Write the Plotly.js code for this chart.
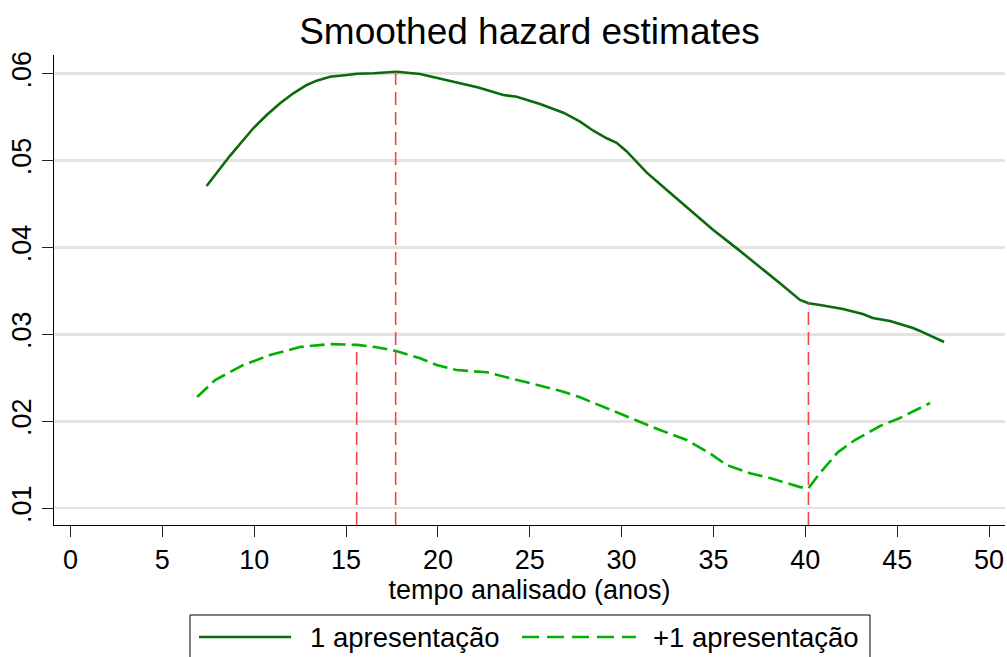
<!DOCTYPE html>
<html>
<head>
<meta charset="utf-8">
<script src="https://cdn.plot.ly/plotly-3.0.1.min.js"></script>
<style>
  html, body { margin: 0; padding: 0; background: #fff; }
  #chart { width: 1007px; height: 657px; }
</style>
</head>
<body>
<div id="chart"></div>
<script>
// Smoothed hazard estimates, by number of presentations
var tempo1 = [7.41, 7.96, 8.68, 9.41, 9.95, 10.68, 11.41, 12.13, 12.86, 13.4, 14.13, 15.04, 15.6, 16.5, 17.03, 17.76, 19.03, 20.55, 22.2, 23.56, 24.29, 25.56, 26.83, 27.74, 28.46, 29.19, 29.73, 30.28, 30.64, 31.0, 31.37, 32.46, 33.54, 34.99, 36.27, 37.53, 38.62, 39.71, 40.17, 40.8, 42.05, 43.13, 43.67, 44.61, 45.86, 46.24, 47.55];
var hazard1 = [0.04708, 0.04862, 0.05055, 0.05237, 0.05372, 0.05525, 0.05659, 0.05774, 0.0587, 0.0592, 0.05965, 0.05985, 0.06000, 0.06005, 0.06010, 0.06023, 0.05997, 0.05925, 0.05840, 0.05755, 0.05735, 0.05651, 0.05551, 0.05448, 0.05344, 0.05257, 0.05205, 0.05105, 0.05025, 0.04945, 0.04861, 0.04662, 0.04462, 0.04201, 0.03990, 0.03779, 0.03588, 0.03396, 0.03358, 0.03338, 0.03292, 0.03235, 0.03189, 0.03154, 0.03074, 0.03040, 0.02913];

var tempo2 = [6.89, 7.87, 9.39, 10.86, 12.49, 14.13, 15.6, 16.58, 17.72, 19.03, 19.93, 21.02, 22.66, 23.74, 25.38, 26.65, 27.74, 29.19, 30.82, 32.09, 33.54, 34.81, 35.72, 36.99, 38.08, 39.71, 40.17, 40.8, 41.78, 42.7, 44.07, 45.15, 46.79];
var hazard2 = [0.0228, 0.02474, 0.02647, 0.02762, 0.02855, 0.02889, 0.02880, 0.02855, 0.02809, 0.02725, 0.02648, 0.0259, 0.02564, 0.02506, 0.02418, 0.02352, 0.02276, 0.0215, 0.02015, 0.019, 0.01785, 0.01632, 0.01497, 0.01402, 0.01347, 0.01243, 0.01229, 0.01405, 0.01646, 0.01785, 0.01946, 0.02038, 0.02211];

// reference lines: time of peak / turning point and the hazard reached there
var refTempo = [15.58, 17.7, 40.17];
var refHazard = [0.0288, 0.06023, 0.03358];

var xTicks = [0, 5, 10, 15, 20, 25, 30, 35, 40, 45, 50];
var yTicks = [0.01, 0.02, 0.03, 0.04, 0.05, 0.06];
var yTickText = ['.01', '.02', '.03', '.04', '.05', '.06'];

var seriesNames = ['1 apresentação', '+1 apresentação'];

var xRange = [-0.898, 50.87];
var yRange = [0.00807, 0.06215];

var W = 1007, H = 657;
var M = {l: 54, r: 2, t: 55, b: 132};
var FONT = 'Liberation Sans, Arial, Helvetica, sans-serif';

var colSolid = '#0b6a0b';
var colDash = '#00b000';
var colRef = '#f44545';

// pixel position -> paper coordinates (for the legend block below the axis)
function px(xp) { return (xp - M.l) / (W - M.l - M.r); }
function py(yp) { return (H - M.b - yp) / (H - M.t - M.b); }

var traces = [
  {
    x: tempo1, y: hazard1, type: 'scatter', mode: 'lines',
    name: seriesNames[0],
    line: {color: colSolid, width: 2.6}
  },
  {
    x: tempo2, y: hazard2, type: 'scatter', mode: 'lines',
    name: seriesNames[1],
    line: {color: colDash, width: 2.6, dash: '15px,6px'}
  }
];

refTempo.forEach(function (t, i) {
  traces.push({
    x: [t, t], y: [yRange[0], refHazard[i]], type: 'scatter', mode: 'lines',
    showlegend: false, hoverinfo: 'skip',
    line: {color: colRef, width: 1.6, dash: '13px,7px'}
  });
});

// legend block
var legTop = 615, legMid = 637;
var shapes = [
  {type: 'rect', xref: 'paper', yref: 'paper',
   x0: px(190), x1: px(870), y0: py(legTop), y1: py(700),
   line: {color: '#000', width: 1}, fillcolor: 'rgba(0,0,0,0)'},
  {type: 'line', xref: 'paper', yref: 'paper',
   x0: px(199), x1: px(291), y0: py(legMid), y1: py(legMid),
   line: {color: colSolid, width: 2.6}},
  {type: 'line', xref: 'paper', yref: 'paper',
   x0: px(522), x1: px(636), y0: py(legMid), y1: py(legMid),
   line: {color: colDash, width: 2.6, dash: '17px,8px'}}
];

var annotations = [
  {xref: 'paper', yref: 'paper', x: px(308), y: py(legMid),
   xanchor: 'left', yanchor: 'middle', showarrow: false,
   text: seriesNames[0], font: {family: FONT, size: 27.5, color: '#000'}},
  {xref: 'paper', yref: 'paper', x: px(651), y: py(legMid),
   xanchor: 'left', yanchor: 'middle', showarrow: false,
   text: seriesNames[1], font: {family: FONT, size: 27.5, color: '#000'}}
];

var layout = {
  width: W, height: H,
  margin: M,
  paper_bgcolor: '#fff', plot_bgcolor: '#fff',
  font: {family: FONT, size: 27, color: '#000'},
  showlegend: false,
  title: {
    text: 'Smoothed hazard estimates',
    font: {family: FONT, size: 37, color: '#000'},
    xref: 'paper', x: 0.5, xanchor: 'center',
    yref: 'container', y: 1 - 31 / H, yanchor: 'middle'
  },
  xaxis: {
    range: xRange, tickmode: 'array', tickvals: xTicks,
    ticks: 'outside', ticklen: 11, tickwidth: 1, tickcolor: '#222',
    showline: true, linecolor: '#000', linewidth: 1,
    showgrid: false, zeroline: false,
    tickfont: {family: FONT, size: 27, color: '#000'},
    title: {text: 'tempo analisado (anos)', standoff: 4,
            font: {family: FONT, size: 27, color: '#000'}}
  },
  yaxis: {
    range: yRange, tickmode: 'array', tickvals: yTicks, ticktext: yTickText,
    tickangle: -90,
    ticks: 'outside', ticklen: 11, tickwidth: 1, tickcolor: '#222',
    showline: true, linecolor: '#000', linewidth: 1,
    showgrid: true, gridcolor: '#e3e3e3', gridwidth: 2.5,
    zeroline: false,
    tickfont: {family: FONT, size: 27, color: '#000'}
  },
  shapes: shapes,
  annotations: annotations
};

Plotly.newPlot('chart', traces, layout, {staticPlot: true, displayModeBar: false});
</script>
</body>
</html>
